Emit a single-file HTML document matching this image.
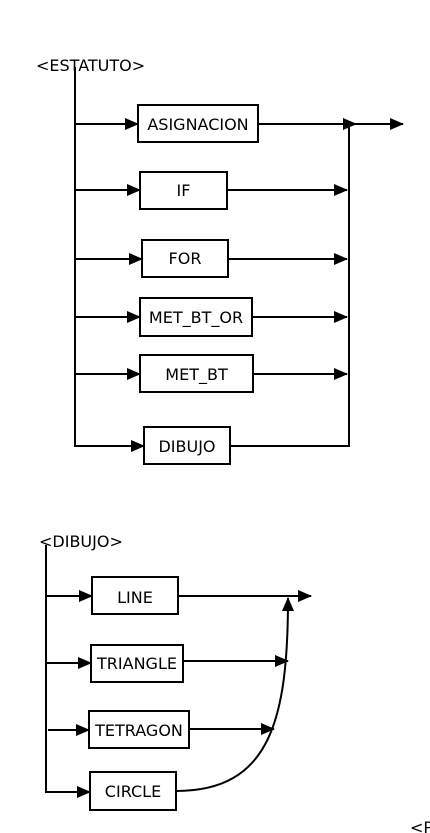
<!DOCTYPE html>
<html><head><meta charset="utf-8"><style>
html,body{margin:0;padding:0;background:#fff;}
svg{display:block;}
text{font-family:"DejaVu Sans","Liberation Sans",sans-serif;font-size:16px;fill:#000;}
</style></head><body>
<svg width="430" height="833" viewBox="0 0 430 833" xmlns="http://www.w3.org/2000/svg">
<defs>
<marker id="a" markerWidth="14" markerHeight="12" refX="13" refY="6" orient="auto" markerUnits="userSpaceOnUse">
<path d="M0,0 L14,6 L0,12 z" fill="#000"/></marker>
</defs>
<g stroke="#000" stroke-width="2" fill="none">
<line x1="75" y1="67" x2="75" y2="446"/>
<line x1="74" y1="446" x2="144" y2="446" marker-end="url(#a)"/>
<line x1="75" y1="124" x2="138" y2="124" marker-end="url(#a)"/>
<line x1="75" y1="190" x2="140" y2="190" marker-end="url(#a)"/>
<line x1="75" y1="259" x2="142" y2="259" marker-end="url(#a)"/>
<line x1="75" y1="317" x2="140" y2="317" marker-end="url(#a)"/>
<line x1="75" y1="374" x2="140" y2="374" marker-end="url(#a)"/>
<rect x="138" y="105" width="120" height="37"/>
<rect x="140" y="172" width="87" height="37"/>
<rect x="142" y="240" width="86" height="37"/>
<rect x="140" y="298" width="112" height="38"/>
<rect x="140" y="355" width="113" height="37"/>
<rect x="144" y="427" width="86" height="37"/>
<line x1="258" y1="124" x2="356" y2="124" marker-end="url(#a)"/>
<line x1="349" y1="124" x2="403" y2="124" marker-end="url(#a)"/>
<line x1="227" y1="190" x2="347" y2="190" marker-end="url(#a)"/>
<line x1="228" y1="259" x2="347" y2="259" marker-end="url(#a)"/>
<line x1="252" y1="317" x2="347" y2="317" marker-end="url(#a)"/>
<line x1="253" y1="374" x2="347" y2="374" marker-end="url(#a)"/>
<polyline points="230,446 349,446 349,124"/>
<line x1="46" y1="545" x2="46" y2="792"/>
<line x1="45" y1="792" x2="90" y2="792" marker-end="url(#a)"/>
<line x1="46" y1="596" x2="92" y2="596" marker-end="url(#a)"/>
<line x1="46" y1="663" x2="91" y2="663" marker-end="url(#a)"/>
<line x1="48" y1="730" x2="89" y2="730" marker-end="url(#a)"/>
<rect x="92" y="577" width="86" height="37"/>
<rect x="91" y="645" width="92" height="37"/>
<rect x="89" y="711" width="100" height="37"/>
<rect x="90" y="772" width="86" height="38"/>
<line x1="178" y1="596" x2="311" y2="596" marker-end="url(#a)"/>
<line x1="183" y1="661" x2="288" y2="661" marker-end="url(#a)"/>
<line x1="189" y1="729" x2="274" y2="729" marker-end="url(#a)"/>
<path d="M176,791 C270,791 288,720 288,598" marker-end="url(#a)"/>
</g>
<text x="36" y="71">&lt;ESTATUTO&gt;</text>
<text x="198" y="130" text-anchor="middle">ASIGNACION</text>
<text x="183.5" y="196" text-anchor="middle">IF</text>
<text x="185" y="264" text-anchor="middle">FOR</text>
<text x="196" y="323" text-anchor="middle">MET_BT_OR</text>
<text x="196.5" y="380" text-anchor="middle">MET_BT</text>
<text x="187" y="452" text-anchor="middle">DIBUJO</text>
<text x="39" y="547">&lt;DIBUJO&gt;</text>
<text x="135" y="603" text-anchor="middle">LINE</text>
<text x="137" y="669" text-anchor="middle">TRIANGLE</text>
<text x="139" y="736" text-anchor="middle">TETRAGON</text>
<text x="133" y="797" text-anchor="middle">CIRCLE</text>
<text x="410" y="833">&lt;P</text>
</svg>
</body></html>
